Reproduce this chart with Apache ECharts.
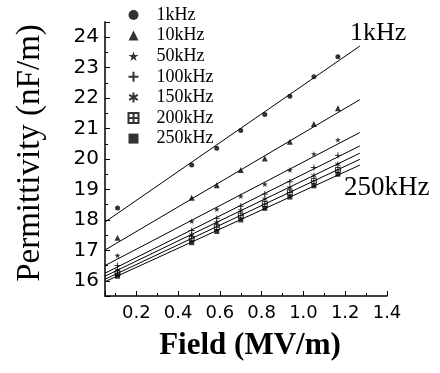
<!DOCTYPE html>
<html>
<head>
<meta charset="utf-8">
<script src="https://cdn.jsdelivr.net/npm/echarts@6/dist/echarts.min.js"></script>
<style>
html,body{margin:0;padding:0;background:#fff;}
#mybox{width:440px;height:373px;}
</style>
</head>
<body>
<div id="mybox"></div>
<script>
// measured field points (MV/m)
var fieldX = [0.11, 0.465, 0.585, 0.70, 0.815, 0.935, 1.05, 1.165];
var freqNames = ['1kHz', '10kHz', '50kHz', '100kHz', '150kHz', '200kHz', '250kHz'];

// permittivity (nF/m) per frequency
var perm1k   = [18.39, 19.80, 20.35, 20.94, 21.46, 22.06, 22.70, 23.36];
var perm10k  = [17.41, 18.73, 19.14, 19.64, 20.02, 20.57, 21.15, 21.67];
var perm50k  = [16.83, 17.96, 18.35, 18.78, 19.17, 19.64, 20.17, 20.63];
var perm100k = [16.50, 17.65, 18.05, 18.45, 18.85, 19.25, 19.72, 20.12];
var perm150k = [16.35, 17.50, 17.90, 18.30, 18.68, 19.05, 19.45, 19.82];
var perm200k = [16.25, 17.38, 17.76, 18.14, 18.52, 18.90, 19.28, 19.64];
var perm250k = [16.15, 17.25, 17.62, 18.00, 18.38, 18.75, 19.12, 19.50];

// fitted lines, read at both ends
var fitX = [0.05, 1.27];
var fitStart = [17.93, 17.01, 16.50, 16.25, 16.15, 16.05, 15.97];
var fitEnd   = [23.71, 21.95, 20.87, 20.43, 20.19, 19.99, 19.80];

var allPerm = [perm1k, perm10k, perm50k, perm100k, perm150k, perm200k, perm250k];

// marker for each frequency
var markers = [
    { symbol: 'circle', size: 5, stroke: false },
    { symbol: 'triangle', size: 6, stroke: false },
    { symbol: 'path://M5,0L6.2,3.6L10,3.6L6.9,5.9L8.1,9.5L5,7.3L1.9,9.5L3.1,5.9L0,3.6L3.8,3.6Z', size: 6, stroke: false },
    { symbol: 'path://M5,0L5,10M0,5L10,5', size: 6, stroke: true },
    { symbol: 'path://M5,0L5,10M0.7,2.5L9.3,7.5M0.7,7.5L9.3,2.5', size: 6, stroke: true },
    { symbol: 'path://M0,0L10,0L10,10L0,10ZM5,0L5,10M0,5L10,5', size: 5, stroke: true },
    { symbol: 'rect', size: 5, stroke: false }
];

var serif = '"Liberation Serif", "Times New Roman", serif';
var sans = '"DejaVu Sans", Arial, sans-serif';

var series = [];
for (var i = 0; i < freqNames.length; i++) {
    var pts = [];
    for (var j = 0; j < fieldX.length; j++) {
        pts.push([fieldX[j], allPerm[i][j]]);
    }
    var m = markers[i];
    series.push({
        name: freqNames[i],
        type: 'scatter',
        symbol: m.symbol,
        symbolSize: m.size,
        symbolKeepAspect: true,
        itemStyle: m.stroke
            ? { color: 'none', borderColor: '#000', borderWidth: 1 }
            : { color: '#000' },
        z: 3,
        data: pts
    });
    series.push({
        name: 'fit ' + freqNames[i],
        type: 'line',
        showSymbol: false,
        silent: true,
        lineStyle: { color: '#000', width: 1 },
        data: [[fitX[0], fitStart[i]], [fitX[1], fitEnd[i]]]
    });
}

var mycharts = echarts.init(document.getElementById('mybox'), null, { renderer: 'canvas' });

var optionObj = {
    animation: false,
    backgroundColor: '#fff',
    grid: { left: 105, right: 53, top: 22, bottom: 77 },
    legend: {
        data: freqNames,
        orient: 'vertical',
        left: 126,
        top: 4.7,
        padding: 0,
        itemGap: 0,
        itemWidth: 10,
        itemHeight: 10,
        textStyle: { fontFamily: serif, fontSize: 18, color: '#000', lineHeight: 20.6, padding: [0, 0, 0, 13] }
    },
    xAxis: {
        type: 'value',
        min: 0.05,
        max: 1.4,
        splitNumber: 7,
        name: 'Field (MV/m)',
        nameLocation: 'middle',
        nameGap: 34,
        nameTextStyle: { fontFamily: serif, fontSize: 31, fontWeight: 'bold', color: '#000', padding: [0, 0, 0, 8] },
        axisLine: { lineStyle: { color: '#000', width: 1.5 } },
        axisTick: { inside: true, length: 5, lineStyle: { color: '#000' } },
        minorTick: { show: true, splitNumber: 2, length: 3, lineStyle: { color: '#000' } },
        splitLine: { show: false },
        axisLabel: {
            margin: 8,
            fontFamily: sans,
            fontSize: 18,
            color: '#000',
            formatter: function (v) {
                var r = Math.round(v * 10) / 10;
                return Math.abs(r - v) < 1e-6 && Math.round(v * 10) % 2 === 0 ? r.toFixed(1) : '';
            }
        }
    },
    yAxis: {
        type: 'value',
        min: 15.5,
        max: 24.5,
        splitNumber: 9,
        name: 'Permittivity (nF/m)',
        nameLocation: 'middle',
        nameGap: 58,
        nameTextStyle: { fontFamily: serif, fontSize: 33, color: '#000', padding: [0, 0, 0, 12] },
        axisLine: { lineStyle: { color: '#000', width: 1.5 } },
        axisTick: { inside: true, length: 5, lineStyle: { color: '#000' } },
        minorTick: { show: true, splitNumber: 2, length: 3, lineStyle: { color: '#000' } },
        splitLine: { show: false },
        axisLabel: {
            margin: 6,
            fontFamily: sans,
            fontSize: 20,
            color: '#000',
            formatter: function (v) {
                return v % 1 === 0 ? String(v) : '';
            }
        }
    },
    graphic: [
        {
            type: 'text',
            left: 350,
            top: 20,
            style: { text: '1kHz', font: '26px ' + serif, fill: '#000' }
        },
        {
            type: 'text',
            left: 344,
            top: 174,
            style: { text: '250kHz', font: '27px ' + serif, fill: '#000' }
        }
    ],
    series: series
};

mycharts.setOption(optionObj);
</script>
</body>
</html>
